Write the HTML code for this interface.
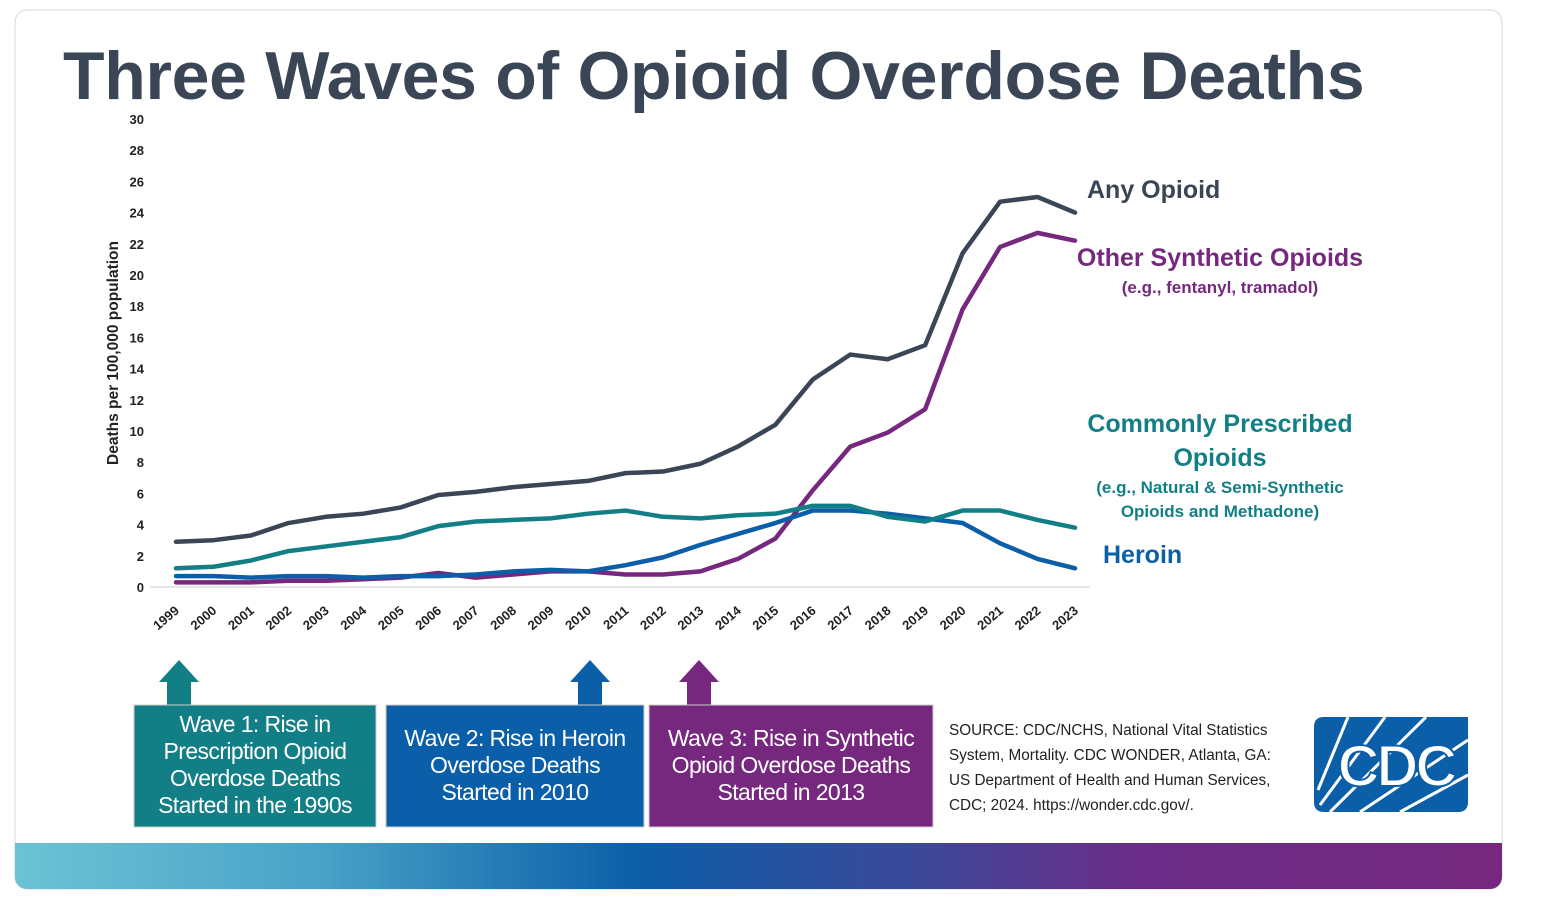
<!DOCTYPE html>
<html><head><meta charset="utf-8"><style>
html,body{margin:0;padding:0;background:#fff;}
svg{display:block;font-family:"Liberation Sans","DejaVu Sans",sans-serif;}
</style></head><body>
<svg id="chart" width="1544" height="920" viewBox="0 0 1544 920">
<defs>
<linearGradient id="band" x1="0" x2="1" y1="0" y2="0">
<stop offset="0" stop-color="#6cc3d5"/><stop offset="0.2" stop-color="#4aa3c8"/><stop offset="0.42" stop-color="#0b5ea8"/><stop offset="0.6" stop-color="#3a4a9a"/><stop offset="0.75" stop-color="#6a2d88"/><stop offset="1" stop-color="#76287e"/>
</linearGradient>
<clipPath id="cardclip"><rect x="15" y="10" width="1487" height="879" rx="12"/></clipPath>
</defs>
<rect x="15" y="10" width="1487" height="879" rx="12" fill="#fff" stroke="#d9d9d9"/>
<rect x="15" y="843" width="1487" height="46" fill="url(#band)" clip-path="url(#cardclip)"/>
<text x="63" y="99" font-size="68" font-weight="bold" fill="#3a4655" letter-spacing="-0.3">Three Waves of Opioid Overdose Deaths</text>
<text transform="translate(118,353) rotate(-90)" text-anchor="middle" font-size="15.5" font-weight="bold" fill="#222">Deaths per 100,000 population</text>
<g id="yticks"></g><g id="xticks"></g><g id="lines"></g>
<line x1="150" y1="587" x2="1090" y2="587" stroke="#ddd" stroke-width="1.5"/>
<text x="1087" y="198" font-size="25" font-weight="bold" fill="#3a4655">Any Opioid</text>
<text x="1220" y="266" text-anchor="middle" font-size="25" font-weight="bold" fill="#76287e">Other Synthetic Opioids</text>
<text x="1220" y="293" text-anchor="middle" font-size="17" font-weight="bold" fill="#76287e">(e.g., fentanyl, tramadol)</text>
<text x="1220" y="432" text-anchor="middle" font-size="25" font-weight="bold" fill="#127f86">Commonly Prescribed</text>
<text x="1220" y="466" text-anchor="middle" font-size="25" font-weight="bold" fill="#127f86">Opioids</text>
<text x="1220" y="493" text-anchor="middle" font-size="17" font-weight="bold" fill="#127f86">(e.g., Natural &amp; Semi-Synthetic</text>
<text x="1220" y="517" text-anchor="middle" font-size="17" font-weight="bold" fill="#127f86">Opioids and Methadone)</text>
<text x="1103" y="563" font-size="25" font-weight="bold" fill="#0b5ea8">Heroin</text>

<g>
<polygon points="167,705 167,682 159,682 179,660 199,682 191,682 191,705" fill="#127f86"/>
<rect x="134" y="705" width="242" height="122" fill="#127f86" stroke="#ccc"/>
<text text-anchor="middle" font-size="23" fill="#fff" letter-spacing="-0.6"><tspan x="255" y="732">Wave 1: Rise in</tspan><tspan x="255" y="759">Prescription Opioid</tspan><tspan x="255" y="786">Overdose Deaths</tspan><tspan x="255" y="813">Started in the 1990s</tspan></text>
</g>
<g>
<polygon points="578,705 578,682 570,682 590,660 610,682 602,682 602,705" fill="#0b5ea8"/>
<rect x="386" y="705" width="258" height="122" fill="#0b5ea8" stroke="#ccc"/>
<text text-anchor="middle" font-size="23" fill="#fff" letter-spacing="-0.6"><tspan x="515" y="746">Wave 2: Rise in Heroin</tspan><tspan x="515" y="773">Overdose Deaths</tspan><tspan x="515" y="800">Started in 2010</tspan></text>
</g>
<g>
<polygon points="687,705 687,682 679,682 699,660 719,682 711,682 711,705" fill="#76287e"/>
<rect x="649" y="705" width="284" height="122" fill="#76287e" stroke="#ccc"/>
<text text-anchor="middle" font-size="23" fill="#fff" letter-spacing="-0.6"><tspan x="791" y="746">Wave 3: Rise in Synthetic</tspan><tspan x="791" y="773">Opioid Overdose Deaths</tspan><tspan x="791" y="800">Started in 2013</tspan></text>
</g>
<text font-size="15.3" fill="#222"><tspan x="949" y="735">SOURCE: CDC/NCHS, National Vital Statistics</tspan><tspan x="949" y="760">System, Mortality. CDC WONDER, Atlanta, GA:</tspan><tspan x="949" y="785">US Department of Health and Human Services,</tspan><tspan x="949" y="810">CDC; 2024. https://wonder.cdc.gov/.</tspan></text>
<g>
<path d="M1320,717 H1468 V802 Q1468,812 1458,812 H1324 Q1314,812 1314,802 V727 Q1314,717 1324,717 Z" fill="#0b5ea8"/>
<g stroke="#fff" stroke-width="3"><line x1="1348" y1="717" x2="1318" y2="790"/><line x1="1385" y1="717" x2="1320" y2="805"/><line x1="1426" y1="717" x2="1330" y2="812"/><line x1="1468" y1="740" x2="1360" y2="812"/><line x1="1468" y1="775" x2="1400" y2="812"/></g>
<text x="1396" y="786" text-anchor="middle" font-size="58" font-weight="bold" fill="#fff" stroke="#0b5ea8" stroke-width="2" letter-spacing="-3">CDC</text>
</g>
</svg>
<script>
const years = ["1999","2000","2001","2002","2003","2004","2005","2006","2007","2008","2009","2010","2011","2012","2013","2014","2015","2016","2017","2018","2019","2020","2021","2022","2023"];
const yTicks = [0,2,4,6,8,10,12,14,16,18,20,22,24,26,28,30];
const anyOpioid = [2.9,3.0,3.3,4.1,4.5,4.7,5.1,5.9,6.1,6.4,6.6,6.8,7.3,7.4,7.9,9.0,10.4,13.3,14.9,14.6,15.5,21.4,24.7,25.0,24.0];
const prescribed = [1.2,1.3,1.7,2.3,2.6,2.9,3.2,3.9,4.2,4.3,4.4,4.7,4.9,4.5,4.4,4.6,4.7,5.2,5.2,4.5,4.2,4.9,4.9,4.3,3.8];
const heroin = [0.7,0.7,0.6,0.7,0.7,0.6,0.7,0.7,0.8,1.0,1.1,1.0,1.4,1.9,2.7,3.4,4.1,4.9,4.9,4.7,4.4,4.1,2.8,1.8,1.2];
const otherSynthetic = [0.3,0.3,0.3,0.4,0.4,0.5,0.6,0.9,0.6,0.8,1.0,1.0,0.8,0.8,1.0,1.8,3.1,6.2,9.0,9.9,11.4,17.8,21.8,22.7,22.2];

const NS="http://www.w3.org/2000/svg";
const x0=176,x1=1075,yBase=587,yTop=119,yMax=30;
function xs(i){return x0+(x1-x0)*i/(years.length-1);}
function ys(v){return yBase-(yBase-yTop)*v/yMax;}
const yg=document.getElementById('yticks');
yTicks.forEach(t=>{const e=document.createElementNS(NS,'text');
e.setAttribute('x',144);e.setAttribute('y',ys(t)+5);e.setAttribute('text-anchor','end');
e.setAttribute('font-size','13');e.setAttribute('font-weight','bold');e.setAttribute('fill','#222');


e.textContent=t;yg.appendChild(e);});
const xg=document.getElementById('xticks');
years.forEach((yr,i)=>{const e=document.createElementNS(NS,'text');
const x=xs(i)+4,y=612;
e.setAttribute('transform',`translate(${x},${y}) rotate(-40)`);e.setAttribute('text-anchor','end');
e.setAttribute('font-size','13');e.setAttribute('font-weight','bold');e.setAttribute('fill','#222');


e.textContent=yr;xg.appendChild(e);});
const lg=document.getElementById('lines');
function drawLine(vals,color,name){const p=document.createElementNS(NS,'polyline');
p.setAttribute('points',vals.map((v,i)=>xs(i)+','+ys(v)).join(' '));
p.setAttribute('fill','none');p.setAttribute('stroke',color);p.setAttribute('stroke-width','4.5');
p.setAttribute('stroke-linejoin','round');p.setAttribute('stroke-linecap','round');


lg.appendChild(p);}
drawLine(otherSynthetic,'#76287e','line-other-synthetic');
drawLine(heroin,'#0b5ea8','line-heroin');
drawLine(prescribed,'#127f86','line-prescribed');
drawLine(anyOpioid,'#3a4655','line-any-opioid');
</script>
</body></html>
